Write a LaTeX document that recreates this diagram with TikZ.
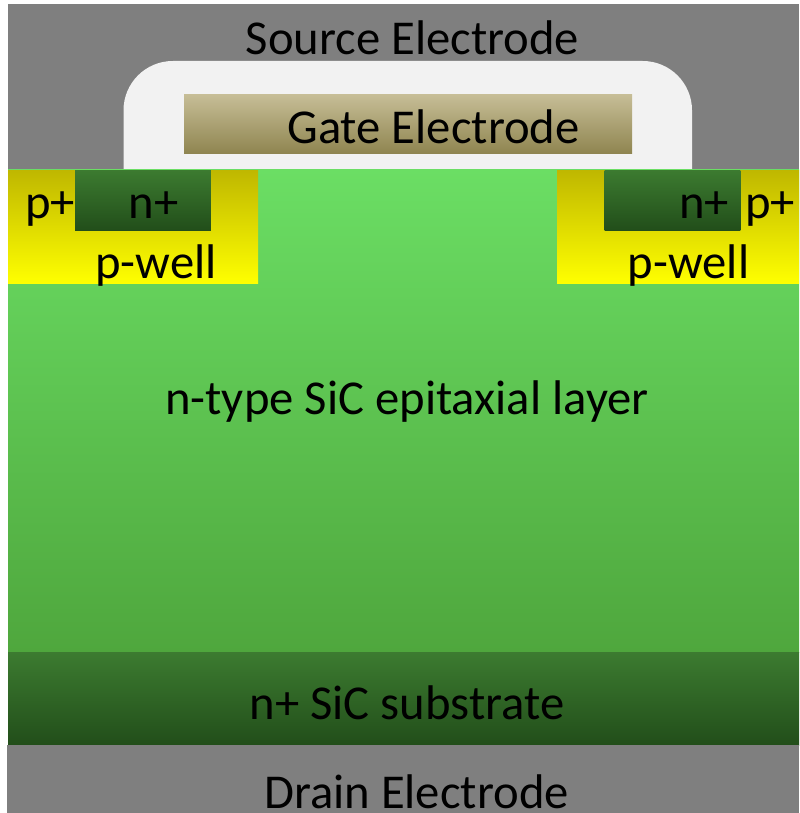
\documentclass[tikz,border=0pt]{standalone}
\usepackage{fontspec}
\setmainfont{Carlito}
\usepackage{xcolor}
\usetikzlibrary{positioning}
\definecolor{electrode}{HTML}{7F7F7F}
\definecolor{oxide}{HTML}{F2F2F2}
\definecolor{gatetop}{HTML}{C6BD96}
\definecolor{gatebot}{HTML}{8F8550}
\definecolor{epitop}{HTML}{6BDE64}
\definecolor{epibot}{HTML}{4FA73D}
\definecolor{subtop}{HTML}{3C7B30}
\definecolor{subbot}{HTML}{224E1A}
\definecolor{welltop}{HTML}{BFB700}
\definecolor{wellbot}{HTML}{FFFF00}
\tikzset{
  label/.style={anchor=base,inner sep=0pt,font=\fontsize{36.5}{40}\selectfont,text=black},
  nplus/.style={bottom color=subbot,top color=subtop},
  pwell/.style={bottom color=wellbot,top color=welltop},
}
\begin{document}
\begin{tikzpicture}[x=0.75pt,y=-0.75pt]
\useasboundingbox (0,0) rectangle (799,813);
\fill[electrode] (8,4.5) rectangle (799,168.5);
\fill[oxide] (123.5,169) [rounded corners=37pt] -- (123.5,61) -- (692,61) [sharp corners] -- (692,169) -- cycle;
\shade[bottom color=gatebot,top color=gatetop] (184,95) rectangle (632,153.5);
\shade[bottom color=epibot,top color=epitop] (8,169.5) rectangle (799,652);
\shade[pwell] (8,170) rectangle (258,283.5);
\shade[pwell] (557,170) rectangle (799,283.5);
\foreach \x in {75,604.5} {
  \shade[nplus] (\x,170) rectangle ++(135.8,60);
}
\shade[nplus] (8,652) rectangle (799,745);
\fill[electrode] (7,745) rectangle (799,813);
\node[label] (source) at (412.5,55) {Source Electrode};
\node[label] (gate) at (433.5,144) {Gate Electrode};
\node[label] (pplusl) at (50,218) {p+};
\node[label] (nplusl) at (153.5,218) {n+};
\node[label] (pplusr) at (770,218) {p+};
\node[label] (nplusr) at (704,218) {n+};
\node[label] (pwelll) at (156,278) {p-well};
\node[label] (pwellr) at (688.5,278) {p-well};
\node[label] (epi) at (407,414.5) {n-type SiC epitaxial layer};
\node[label] (substrate) at (407,719) {n+ SiC substrate};
\node[label] (drain) at (416.5,808) {Drain Electrode};
\end{tikzpicture}
\end{document}
